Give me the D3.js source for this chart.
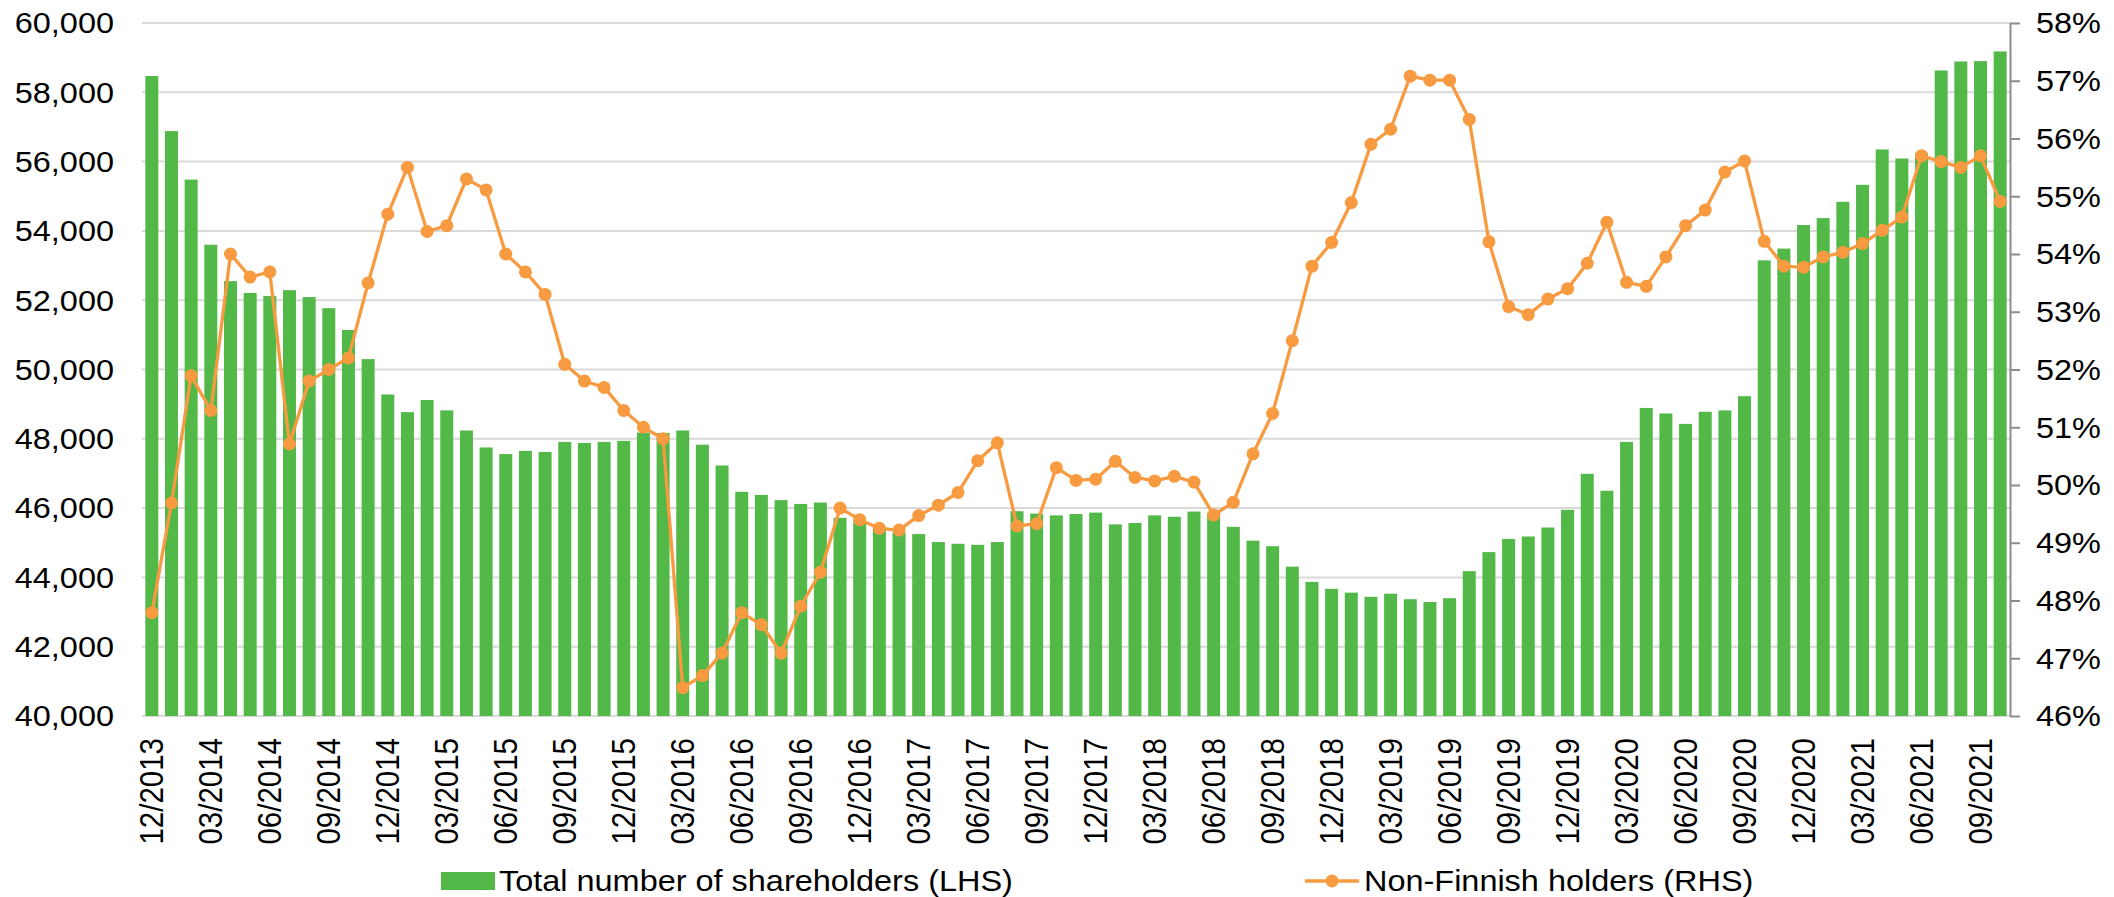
<!DOCTYPE html>
<html>
<head>
<meta charset="utf-8">
<script src="https://cdn.jsdelivr.net/npm/d3@7"></script>
<style>
  html, body { margin: 0; padding: 0; background: #fff; }
  svg { display: block; }
  text { font-family: "Liberation Sans", Arial, sans-serif; fill: #000; }
</style>
</head>
<body>
<svg id="chart" width="2114" height="897"></svg>
<script>
// Month-end observations, 12/2013 .. 10/2021
const months = [
  "12/2013",
  "01/2014","02/2014","03/2014","04/2014","05/2014","06/2014","07/2014","08/2014","09/2014","10/2014","11/2014","12/2014",
  "01/2015","02/2015","03/2015","04/2015","05/2015","06/2015","07/2015","08/2015","09/2015","10/2015","11/2015","12/2015",
  "01/2016","02/2016","03/2016","04/2016","05/2016","06/2016","07/2016","08/2016","09/2016","10/2016","11/2016","12/2016",
  "01/2017","02/2017","03/2017","04/2017","05/2017","06/2017","07/2017","08/2017","09/2017","10/2017","11/2017","12/2017",
  "01/2018","02/2018","03/2018","04/2018","05/2018","06/2018","07/2018","08/2018","09/2018","10/2018","11/2018","12/2018",
  "01/2019","02/2019","03/2019","04/2019","05/2019","06/2019","07/2019","08/2019","09/2019","10/2019","11/2019","12/2019",
  "01/2020","02/2020","03/2020","04/2020","05/2020","06/2020","07/2020","08/2020","09/2020","10/2020","11/2020","12/2020",
  "01/2021","02/2021","03/2021","04/2021","05/2021","06/2021","07/2021","08/2021","09/2021","10/2021"
];

// Total number of shareholders (left axis)
const shareholders = [
  58470,
  56880, 55480, 53600, 52550, 52210, 52120, 52290, 52090, 51770, 51140, 50300, 49280,
  48770, 49120, 48820, 48240, 47750, 47560, 47650, 47620, 47910, 47880, 47910, 47940,
  48180, 48170, 48240, 47830, 47230, 46470, 46380, 46230, 46120, 46160, 45720, 45650,
  45450, 45300, 45250, 45020, 44970, 44940, 45020, 45910, 45840, 45790, 45830, 45870,
  45530, 45570, 45790, 45750, 45900, 45860, 45460, 45060, 44900, 44310, 43870, 43670,
  43560, 43440, 43530, 43370, 43290, 43400, 44180, 44730, 45110, 45180, 45440, 45950,
  46990, 46500, 47910, 48890, 48730, 48430, 48780, 48820, 49230, 53150, 53490, 54170,
  54370, 54840, 55330, 56350, 56090, 56250, 58630, 58890, 58900, 59180
];

// Share of non-Finnish holders, % (right axis)
const nonFinnishPct = [
  47.79,
  49.69, 51.89, 51.29, 54.00, 53.60, 53.69, 50.71, 51.80, 52.00, 52.20, 53.50, 54.69,
  55.50, 54.39, 54.49, 55.30, 55.11, 54.00, 53.69, 53.30, 52.09, 51.80, 51.69, 51.29,
  51.00, 50.80, 46.49, 46.70, 47.09, 47.79, 47.58, 47.09, 47.90, 48.49, 49.60, 49.40,
  49.25, 49.22, 49.47, 49.65, 49.87, 50.42, 50.73, 49.29, 49.33, 50.30, 50.08, 50.10,
  50.41, 50.13, 50.07, 50.15, 50.05, 49.48, 49.70, 50.54, 51.24, 52.50, 53.79, 54.20,
  54.89, 55.90, 56.16, 57.08, 57.01, 57.01, 56.33, 54.21, 53.09, 52.95, 53.22, 53.40,
  53.84, 54.55, 53.51, 53.44, 53.95, 54.49, 54.76, 55.42, 55.61, 54.22, 53.79, 53.77,
  53.95, 54.03, 54.18, 54.41, 54.64, 55.70, 55.60, 55.50, 55.70, 54.91
];

const leftTicks = [40000, 42000, 44000, 46000, 48000, 50000, 52000, 54000, 56000, 58000, 60000];
const rightTicks = [46, 47, 48, 49, 50, 51, 52, 53, 54, 55, 56, 57, 58];
const xTickLabels = [
  "12/2013","03/2014","06/2014","09/2014","12/2014","03/2015","06/2015","09/2015",
  "12/2015","03/2016","06/2016","09/2016","12/2016","03/2017","06/2017","09/2017",
  "12/2017","03/2018","06/2018","09/2018","12/2018","03/2019","06/2019","09/2019",
  "12/2019","03/2020","06/2020","09/2020","12/2020","03/2021","06/2021","09/2021"
];

const seriesNames = ["Total number of shareholders (LHS)", "Non-Finnish holders (RHS)"];

// ---- layout & style ----
const plot = { left: 142, right: 2010, top: 23, bottom: 716 };
const FONT = 29.5;          // px
const STRETCH = 1.1;        // horizontal widening of glyphs
const GREEN = "#52b848";
const ORANGE = "#f79a40";
const GRID = "#d9d9d9";
const AXIS = "#8c8c8c";
const DOT_R = 6.5;
const LINE_W = 3.3;

const svg = d3.select("#chart");

const x = d3.scaleBand()
  .domain(months)
  .range([plot.left, plot.right])
  .paddingInner(0.34)
  .paddingOuter(0.17);

const yL = d3.scaleLinear().domain([40000, 60000]).range([plot.bottom, plot.top]);
const yR = d3.scaleLinear().domain([46, 58]).range([plot.bottom, plot.top]);

const fmt = d3.format(",");

// places a label with slightly widened glyphs
function label(g, tx, ty, str, anchor, rotate) {
  return g.append("text")
    .attr("transform", `translate(${tx},${ty}) scale(${STRETCH},1)` + (rotate ? " rotate(-90)" : ""))
    .attr("text-anchor", anchor)
    .attr("dy", "0.35em")
    .style("font-size", FONT + "px")
    .text(str);
}

// horizontal gridlines
svg.append("g")
  .selectAll("line")
  .data(leftTicks)
  .join("line")
  .attr("x1", plot.left)
  .attr("x2", plot.right)
  .attr("y1", d => yL(d))
  .attr("y2", d => yL(d))
  .attr("stroke", GRID)
  .attr("stroke-width", 2);

// bars
svg.append("g")
  .selectAll("rect")
  .data(months)
  .join("rect")
  .attr("x", d => x(d))
  .attr("width", x.bandwidth())
  .attr("y", (d, i) => yL(shareholders[i]))
  .attr("height", (d, i) => plot.bottom - yL(shareholders[i]))
  .attr("fill", GREEN);

// right axis (line + outward ticks)
const rAxis = svg.append("g")
  .attr("transform", `translate(${plot.right},0)`)
  .call(d3.axisRight(yR).tickValues(rightTicks).tickSize(10).tickSizeOuter(0).tickFormat(""));
rAxis.select(".domain").attr("stroke", AXIS).attr("stroke-width", 2);
rAxis.selectAll(".tick line").attr("stroke", AXIS).attr("stroke-width", 2);
rAxis.selectAll(".tick text").remove();

// line series
const cx = d => x(d) + x.bandwidth() / 2;
const line = d3.line()
  .x(d => cx(d))
  .y((d, i) => yR(nonFinnishPct[i]));

svg.append("path")
  .datum(months)
  .attr("d", line)
  .attr("fill", "none")
  .attr("stroke", ORANGE)
  .attr("stroke-width", LINE_W)
  .attr("stroke-linejoin", "round");

svg.append("g")
  .selectAll("circle")
  .data(months)
  .join("circle")
  .attr("cx", d => cx(d))
  .attr("cy", (d, i) => yR(nonFinnishPct[i]))
  .attr("r", DOT_R)
  .attr("fill", ORANGE);

// tick labels
const labels = svg.append("g");
leftTicks.forEach(v => label(labels, 114, yL(v), fmt(v), "end", false));
rightTicks.forEach(v => label(labels, 2036, yR(v), v + "%", "start", false));
xTickLabels.forEach(s => label(labels, cx(s), 738, s, "end", true));

// legend
const lg = svg.append("g");
const legY = 881;
lg.append("rect")
  .attr("x", 441).attr("y", legY - 9)
  .attr("width", 54).attr("height", 18)
  .attr("fill", GREEN);
label(lg, 499, legY, seriesNames[0], "start", false);

lg.append("line")
  .attr("x1", 1305).attr("x2", 1359)
  .attr("y1", legY).attr("y2", legY)
  .attr("stroke", ORANGE).attr("stroke-width", LINE_W);
lg.append("circle")
  .attr("cx", 1332).attr("cy", legY).attr("r", DOT_R)
  .attr("fill", ORANGE);
label(lg, 1364, legY, seriesNames[1], "start", false);
</script>
</body>
</html>
